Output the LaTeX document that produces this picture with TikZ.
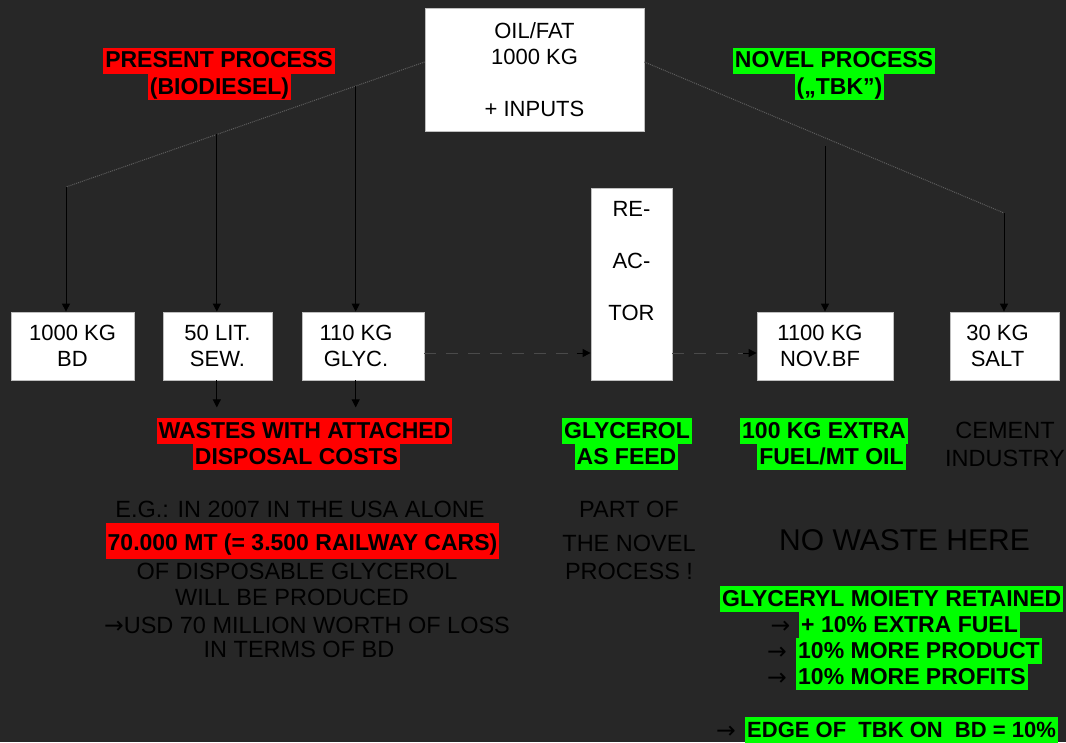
\documentclass[tikz,border=0pt]{standalone}
\usepackage{fontspec}
\setmainfont{Liberation Sans}
\newfontfamily\arrowfont{DejaVu Sans}
\usetikzlibrary{arrows.meta,calc}
\definecolor{bg}{HTML}{272727}
\definecolor{hred}{HTML}{FF0000}
\definecolor{hgreen}{HTML}{00FF00}
\definecolor{dotc}{HTML}{5E5E5E}
\definecolor{dashc}{HTML}{4A4A4A}
\definecolor{boxline}{HTML}{BFBFBF}
\newcommand\myfs{\fontsize{22}{26}\selectfont}
\newcommand\myls{\fontsize{23.5}{26}\selectfont}
\newcommand\mybf{\fontsize{23}{26}\selectfont\bfseries}
\newcommand\rarr{{\arrowfont →}}
\begin{document}
\begin{tikzpicture}[x=1pt,y=-1pt,
 box/.style={draw=boxline, fill=white, line width=0.8pt, font=\myfs, align=center, inner sep=0pt, text=black},
 plain/.style={font=\myfs, text=black, inner sep=0pt, align=center},
 oneline/.style={font=\myls, text=black, inner sep=0pt, text height=16pt, text depth=0pt},
 hl/.style={font=\mybf, text=black, inner xsep=2pt, inner ysep=0pt, text height=20pt, text depth=6pt},
 redhl/.style={hl, fill=hred},
 greenhl/.style={hl, fill=hgreen},
 arr/.style={draw=black, line width=1pt, -{Triangle[width=8pt,length=8pt]}},
 dotline/.style={draw=dotc, line width=1pt, dash pattern=on 1pt off 1pt},
 dashline/.style={draw=dashc, line width=1pt, dash pattern=on 12pt off 10pt}
]
\fill[bg] (0,0) rectangle (1066,742);
\useasboundingbox (0,0) rectangle (1066,742);

% highlighted labels
\node[redhl] (present1) at (219,60.5) {PRESENT PROCESS};
\node[redhl] (present2) at (219.5,87) {(BIODIESEL)};
\node[greenhl] (novel1) at (834,60.5) {NOVEL PROCESS};
\node[greenhl] (novel2) at (839.5,87) {(„TBK”)};
\node[redhl] (waste1) at (304.5,431) {WASTES WITH ATTACHED};
\node[redhl] (waste2) at (296.5,457) {DISPOSAL COSTS};
\node[greenhl] (feed1) at (627,431) {GLYCEROL};
\node[greenhl] (feed2) at (626.5,457) {AS FEED};
\node[greenhl] (extra1) at (824,431) {100 KG EXTRA};
\node[greenhl] (extra2) at (831.5,457) {FUEL/MT OIL};
\node[oneline] (cement) at (1005,430) {CEMENT};
\node[oneline] (industry) at (1005,458) {INDUSTRY};

% left text block
\node[oneline] (eg) at (300,509) {E.G.: IN 2007 IN THE USA ALONE};
\node[redhl, text height=27pt, text depth=9pt] (mt) at (302.5,541) {70.000 MT (= 3.500 RAILWAY CARS)};
\node[oneline] (of) at (297,571) {OF DISPOSABLE GLYCEROL};
\node[oneline] (will) at (292,597) {WILL BE PRODUCED};
\node[oneline] (usd) at (307,625) {\rarr USD 70 MILLION WORTH OF LOSS};
\node[oneline] (terms) at (299,649) {IN TERMS OF BD};

% middle text
\node[oneline] (part1) at (629,509) {PART OF};
\node[oneline] (part2) at (629,543) {THE NOVEL};
\node[oneline] (part3) at (629,571) {PROCESS !};

% right text
\node[oneline, font=\fontsize{30}{34}\selectfont, text height=21pt] (nowaste) at (904.5,540) {NO WASTE HERE};
\node[greenhl, anchor=west] (glyceryl) at (720,599) {GLYCERYL MOIETY RETAINED};
\node[oneline] (a1) at (780.5,625) {\rarr};
\node[greenhl, anchor=west] (fuel) at (799,625) {+ 10\% EXTRA FUEL};
\node[oneline] (a2) at (777,651) {\rarr};
\node[greenhl, anchor=west] (product) at (796,651) {10\% MORE PRODUCT};
\node[oneline] (a3) at (777,677) {\rarr};
\node[greenhl, anchor=west] (profits) at (796,677) {10\% MORE PROFITS};
\node[oneline] (a4) at (726,730) {\rarr};
\node[greenhl, anchor=west, font=\fontsize{22}{26}\selectfont\bfseries] (edge) at (745,730) {EDGE OF\ \ TBK ON\ \ BD = 10\%};

% boxes
\node[box, minimum width=219pt, minimum height=123pt] (oil) at (534.5,69.5) {OIL/FAT\\1000 KG\\[26pt]+ INPUTS};
\node[box, minimum width=81pt, minimum height=192pt] (reactor) at (631.5,284) {};
\node[plain] (reactortxt) at (631.5,261.5) {RE-\\[26pt]AC-\\[26pt]TOR};
\node[box, minimum width=123pt, minimum height=68pt] (bd) at (72.5,346) {1000 KG\\BD};
\node[box, minimum width=109pt, minimum height=68pt] (sew) at (217.5,346) {50 LIT.\\SEW.};
\node[box, minimum width=122pt, minimum height=68pt] (glyc) at (363,346) {110 KG\hspace*{14pt}\\GLYC.\hspace*{14pt}};
\node[box, minimum width=136pt, minimum height=68pt] (nov) at (825,346) {1100 KG\hspace*{10pt}\\NOV.BF\hspace*{10pt}};
\node[box, minimum width=109pt, minimum height=68pt] (salt) at (1004.5,346) {30 KG\hspace*{14pt}\\SALT\hspace*{14pt}};

% branch points
\coordinate (ot) at ([yshift=7.5pt]oil.west);
\coordinate (bl) at (66,187);
\coordinate (ls) at ($(ot)!0.5794!(bl)$);
\coordinate (lg) at ($(ot)!0.1922!(bl)$);
\coordinate (or) at ([yshift=7.5pt]oil.east);
\coordinate (br) at (1004,213);
\coordinate (nv) at (825,146);
\coordinate (ws) at ($(ls |- sew.south)+(0,27)$);
\coordinate (wg) at ($(lg |- glyc.south)+(0,27)$);
\coordinate (g1) at ([yshift=-7pt]glyc.east);
\coordinate (r1) at (g1 -| reactor.east);
\coordinate (d1) at ($(g1 -| reactor.west)+(-14,0)$);
\coordinate (d2) at ($(r1 -| nov.west)+(-14,0)$);

% dotted branches
\draw[dotline] (ot) -- (bl);
\draw[dotline] (or) -- (br);

% solid arrows
\draw[arr] (bl) -- (bl |- bd.north);
\draw[arr] (ls) -- (ls |- sew.north);
\draw[arr] (lg) -- (lg |- glyc.north);
\draw[arr] (nv) -- (nv |- nov.north);
\draw[arr] (br) -- (br |- salt.north);
\draw[arr] (ls |- sew.south) -- (ws);
\draw[arr] (lg |- glyc.south) -- (wg);

% dashed arrows
\draw[dashline] (g1) -- (d1);
\draw[arr] (d1) -- (g1 -| reactor.west);
\draw[dashline] (r1) -- (d2);
\draw[arr] (d2) -- (r1 -| nov.west);
\end{tikzpicture}
\end{document}
